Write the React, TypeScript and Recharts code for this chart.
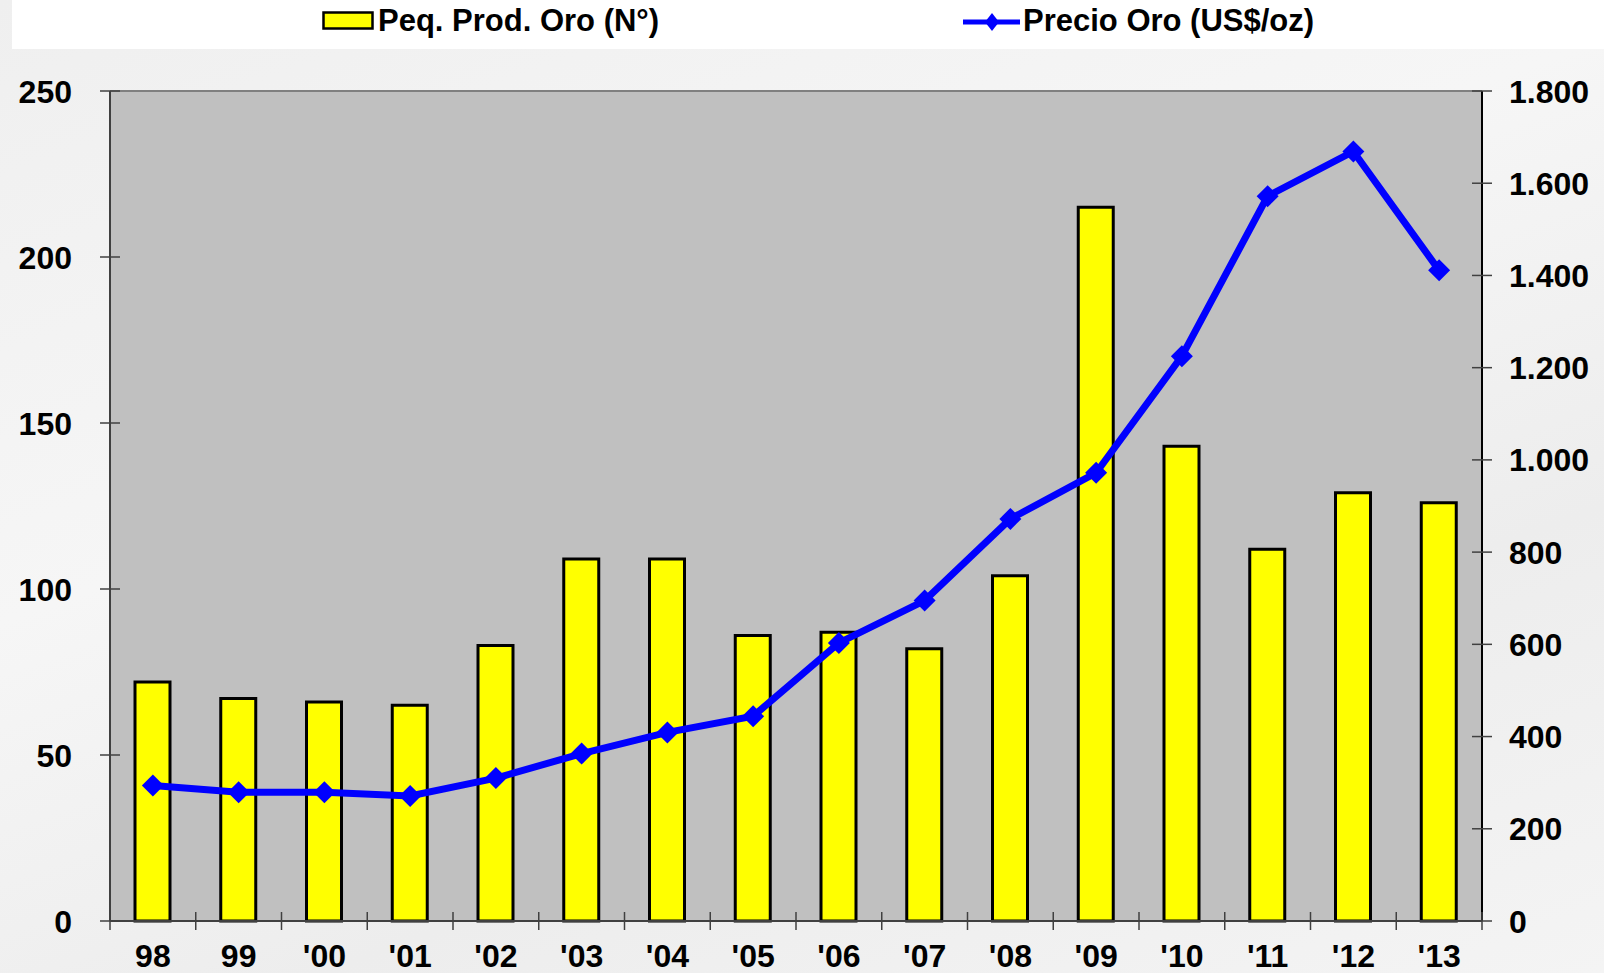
import React from "react";
import {
  ComposedChart,
  Bar,
  Line,
  XAxis,
  YAxis,
  CartesianGrid,
  ReferenceLine,
  Legend,
} from "recharts";

const YEARS = ["98", "99", "'00", "'01", "'02", "'03", "'04", "'05", "'06", "'07", "'08", "'09", "'10", "'11", "'12", "'13"];
const PRODUCERS = [72, 67, 66, 65, 83, 109, 109, 86, 87, 82, 104, 215, 143, 112, 129, 126];
const GOLD_PRICE = [294, 279, 279, 271, 310, 363, 409, 444, 603, 695, 872, 972, 1225, 1572, 1669, 1411];
const LEFT_TICKS = [0, 50, 100, 150, 200, 250];
const RIGHT_TICKS = [0, 200, 400, 600, 800, 1000, 1200, 1400, 1600, 1800];

const data = YEARS.map((year, i) => ({
  year,
  producers: PRODUCERS[i],
  price: GOLD_PRICE[i],
}));

const W = 1604;
const H = 973;
const LEFT_W = 110;
const RIGHT_W = 122;
const BAND = (W - LEFT_W - RIGHT_W) / YEARS.length;
const FONT = "'Liberation Sans', Arial, sans-serif";
const TICK_FS = 32;

const fmtThousands = (v: number) => String(v).replace(/\B(?=(\d{3})+(?!\d))/g, ".");

const LeftTick = ({ x, y, payload }: any) => (
  <g>
    <line x1={x - 10} x2={x + 10} y1={y} y2={y} stroke="#404040" strokeWidth={1.5} />
    <text x={x - 38} y={y} dy="0.36em" textAnchor="end" fontFamily={FONT} fontWeight={700} fontSize={TICK_FS} fill="#000">
      {payload.value}
    </text>
  </g>
);

const RightTick = ({ x, y, payload }: any) => (
  <g>
    <line x1={x - 10} x2={x + 10} y1={y} y2={y} stroke="#404040" strokeWidth={1.5} />
    <text x={x + 27} y={y} dy="0.36em" textAnchor="start" fontFamily={FONT} fontWeight={700} fontSize={TICK_FS} fill="#000">
      {fmtThousands(payload.value)}
    </text>
  </g>
);

const BottomTick = ({ x, y, payload, index }: any) => (
  <g>
    <line x1={x - BAND / 2} x2={x - BAND / 2} y1={y - 9} y2={y + 9} stroke="#404040" strokeWidth={1.5} />
    {index === YEARS.length - 1 && (
      <line x1={x + BAND / 2} x2={x + BAND / 2} y1={y - 9} y2={y + 9} stroke="#404040" strokeWidth={1.5} />
    )}
    <text x={x} y={y + 46} textAnchor="middle" fontFamily={FONT} fontWeight={700} fontSize={TICK_FS} fill="#000">
      {payload.value}
    </text>
  </g>
);

const Diamond = ({ cx, cy }: any) => {
  if (cx == null || cy == null) return null;
  const r = 11;
  return <polygon points={`${cx},${cy - r} ${cx + r},${cy} ${cx},${cy + r} ${cx - r},${cy}`} fill="#0000ff" />;
};

const LegendBox = () => (
  <div style={{ position: "relative", width: W - 12, height: 49, background: "#fff", fontFamily: FONT, fontWeight: 700, fontSize: 31, color: "#000" }}>
    <svg width={54} height={20} style={{ position: "absolute", left: 310, top: 11 }}>
      <rect x={1.5} y={1.5} width={49} height={16} fill="#ffff00" stroke="#000" strokeWidth={2.5} />
    </svg>
    <span style={{ position: "absolute", left: 366, top: 3, lineHeight: "36px", whiteSpace: "nowrap" }}>Peq. Prod. Oro (N°)</span>
    <svg width={60} height={24} style={{ position: "absolute", left: 950, top: 10 }}>
      <line x1={1} x2={58} y1={12} y2={12} stroke="#0000ff" strokeWidth={5} />
      <polygon points="30,3 37,12 30,21 23,12" fill="#0000ff" />
    </svg>
    <span style={{ position: "absolute", left: 1011, top: 3, lineHeight: "36px", whiteSpace: "nowrap" }}>Precio Oro (US$/oz)</span>
  </div>
);

export default function App() {
  return (
    <div
      style={{
        position: "absolute",
        left: 0,
        top: 0,
        width: W,
        height: H,
        background: "linear-gradient(160deg, #efefef 0%, #f6f6f6 40%, #ededed 70%, #f4f4f4 100%)",
      }}
    >
      <ComposedChart width={W} height={H} data={data} margin={{ top: 42, right: 0, bottom: 0, left: 0 }}>
        <CartesianGrid fill="#c0c0c0" stroke="none" horizontal={false} vertical={false} yAxisId="left" />
        <Legend
          verticalAlign="top"
          align="left"
          content={() => <LegendBox />}
          wrapperStyle={{ left: 12, top: 0, width: W - 12, height: 49 }}
        />
        <XAxis
          dataKey="year"
          height={52}
          tickSize={0}
          tickMargin={0}
          interval={0}
          axisLine={{ stroke: "#404040", strokeWidth: 2 }}
          tick={<BottomTick />}
        />
        <YAxis
          yAxisId="left"
          orientation="left"
          width={LEFT_W}
          domain={[0, 250]}
          ticks={LEFT_TICKS}
          tickSize={0}
          tickMargin={0}
          axisLine={{ stroke: "#404040", strokeWidth: 2 }}
          tick={<LeftTick />}
        />
        <YAxis
          yAxisId="right"
          orientation="right"
          width={RIGHT_W}
          domain={[0, 1800]}
          ticks={RIGHT_TICKS}
          tickSize={0}
          tickMargin={0}
          axisLine={{ stroke: "#000", strokeWidth: 2 }}
          tick={<RightTick />}
        />
        <ReferenceLine yAxisId="left" y={250} stroke="#808080" strokeWidth={2} />
        <Bar
          yAxisId="left"
          dataKey="producers"
          name="Peq. Prod. Oro (N°)"
          barSize={35}
          fill="#ffff00"
          stroke="#000"
          strokeWidth={3}
          isAnimationActive={false}
        />
        <Line
          yAxisId="right"
          dataKey="price"
          name="Precio Oro (US$/oz)"
          type="linear"
          stroke="#0000ff"
          strokeWidth={7}
          dot={<Diamond />}
          activeDot={false}
          isAnimationActive={false}
        />
      </ComposedChart>
    </div>
  );
}
